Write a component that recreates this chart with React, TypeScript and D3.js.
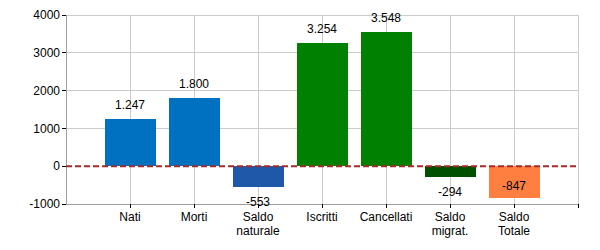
import React from "react";
import * as d3 from "d3";

const categories: string[][] = [["Nati"], ["Morti"], ["Saldo", "naturale"], ["Iscritti"], ["Cancellati"], ["Saldo", "migrat."], ["Saldo", "Totale"]];
const values: number[] = [1247, 1800, -553, 3254, 3548, -294, -847];
const colors: string[] = ["#0070c0", "#0070c0", "#1f58a8", "#008000", "#008000", "#005000", "#ff7f40"];
const yTicks: number[] = [-1000, 0, 1000, 2000, 3000, 4000];

const W = 600, H = 250;
const L = 66, R = 578, T = 15, B = 204;

const itLocale = d3.formatLocale({ decimal: ",", thousands: ".", grouping: [3], currency: ["€", ""] });
const fmt = itLocale.format(",d");

export default function App() {
  const x = d3.scaleLinear().domain([0, categories.length + 1]).range([L, R]);
  const y = d3.scaleLinear().domain([-1000, 4000]).range([B, T]);
  const bw = 51;
  const font = "Arial, 'Liberation Sans', sans-serif";
  const slots = d3.range(1, categories.length + 2);
  return (
    <svg width={W} height={H} style={{ position: "absolute", left: 0, top: 0 }} fontFamily={font}>
      <rect x={0} y={0} width={W} height={H} fill="#fff" />
      {yTicks.filter((t) => t !== -1000 && t !== 0).map((t) => (
        <line key={"gy" + t} x1={L} x2={R} y1={y(t)} y2={y(t)} stroke="#cccccc" strokeWidth={1} shapeRendering="crispEdges" />
      ))}
      {slots.map((s) => (
        <line key={"gx" + s} x1={x(s)} x2={x(s)} y1={T} y2={B} stroke="#cccccc" strokeWidth={1} shapeRendering="crispEdges" />
      ))}
      {values.map((v, i) => {
        const cx = x(i + 1);
        const y0 = y(0), y1 = y(v);
        return (
          <rect key={"b" + i} x={cx - bw / 2} y={Math.min(y0, y1)} width={bw} height={Math.abs(y1 - y0)} fill={colors[i]} shapeRendering="crispEdges" />
        );
      })}
      <line x1={L} x2={L} y1={T} y2={B} stroke="#a0a0a0" strokeWidth={1} shapeRendering="crispEdges" />
      <line x1={L} x2={R} y1={B} y2={B} stroke="#a0a0a0" strokeWidth={1} shapeRendering="crispEdges" />
      <line x1={L} x2={R} y1={y(0)} y2={y(0)} stroke="#a52a2a" strokeWidth={2} strokeDasharray="6,3" />
      {yTicks.map((t) => (
        <g key={"yt" + t}>
          <line x1={L - 4} x2={L} y1={y(t)} y2={y(t)} stroke="#000" shapeRendering="crispEdges" />
          <text x={L - 6} y={y(t)} dy="0.35em" textAnchor="end" fontSize={12} fill="#000">{t}</text>
        </g>
      ))}
      {slots.map((s) => (
        <line key={"xt" + s} x1={x(s)} x2={x(s)} y1={B} y2={B + 4} stroke="#000" shapeRendering="crispEdges" />
      ))}
      {categories.map((c, i) => (
        <text key={"xl" + i} x={x(i + 1)} y={B + 17} textAnchor="middle" fontSize={12} fill="#000">
          {c.map((line, j) => (
            <tspan key={j} x={x(i + 1)} dy={j === 0 ? 0 : 14}>{line}</tspan>
          ))}
        </text>
      ))}
      {values.map((v, i) => {
        const cx = x(i + 1);
        let ly: number;
        if (v >= 0) ly = y(v) - 10;
        else {
          const below = y(v) + 19;
          ly = below > B + 8 ? y(v) - 8 : below;
        }
        return (
          <text key={"vl" + i} x={cx} y={ly} textAnchor="middle" fontSize={12} fill="#000">{fmt(v).replace("−", "-")}</text>
        );
      })}
    </svg>
  );
}
